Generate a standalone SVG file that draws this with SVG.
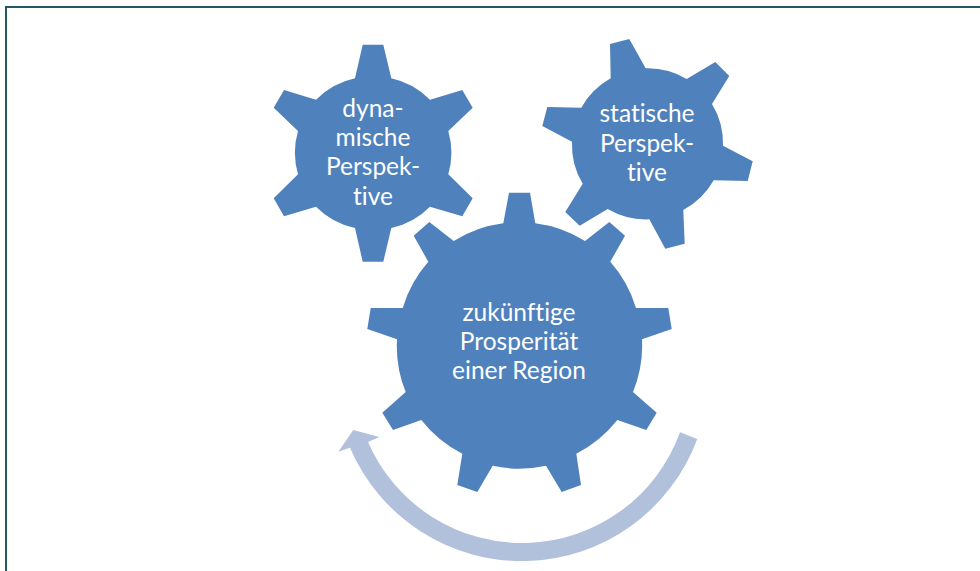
<svg xmlns="http://www.w3.org/2000/svg" width="980" height="571" viewBox="0 0 980 571">
<style>
.gear{fill:#4f81bd}
.arrow{fill:#b2c1db}
.frame{fill:none;stroke:#215868;stroke-width:2}
text{font-family:"Lato","Open Sans","Liberation Sans",sans-serif;font-size:24.5px;font-variant-ligatures:none;fill:#fff;text-anchor:middle}
</style>
<rect width="980" height="571" fill="#fff"/>
<path class="frame" d="M6 571V7H980"/>
<g id="connectors">
<path class="arrow" d="M697.3 439A187 187 0 0 1 350 447.7L338.3 451.7L353.3 430L379.3 437L368 442A168 168 0 0 0 680 432.3Z"/>
</g>
<g id="gear-dynamisch">
<path class="gear" d="M362.7 44.7H383.3L391.3 78.3A78 78 0 0 1 430 99.7L462.3 90L472.7 107.7L448.3 131A78 78 0 0 1 448.3 174.3L472.7 198.3L462.3 216.3L430 206.7A78 78 0 0 1 391.3 228L383.3 261.7H362.7L355 228A78 78 0 0 1 316 206.7L284 216.3L273.7 198.3L298 174.3A78 78 0 0 1 298 131L273.7 107.7L284 90L316 99.7A78 78 0 0 1 355 78.3Z"/>
<text x="373" y="117">dyna-</text>
<text x="373" y="146">mische</text>
<text x="373" y="175">Perspek-</text>
<text x="373" y="204.5">tive</text>
</g>
<g id="gear-statisch">
<path class="gear" d="M610 44L629.3 39L645.7 68.3A76 76 0 0 1 686.7 79L715.3 62L729.3 76L712 104A76 76 0 0 1 723 145.7L752.7 161.3L747.7 181L713.7 180.3A76 76 0 0 1 683.3 210L684.7 243.7L665.3 248.7L649.3 219.3A76 76 0 0 1 607.7 209L579.7 225.7L565.3 212L582.7 183.7A76 76 0 0 1 572 141.7L542.3 126L547.3 107L581.3 107.7A76 76 0 0 1 610.7 78.3Z"/>
<text x="647" y="122">statische</text>
<text x="647" y="151.5">Perspek-</text>
<text x="647" y="181">tive</text>
</g>
<g id="gear-prosperitaet">
<path class="gear" d="M509 192.7H530L535.3 223.3A122.5 122.5 0 0 1 585 241L609.3 222L625 235.7L610.3 261.7A122.5 122.5 0 0 1 636 308H668.3L671.7 329L642 339.3A122.5 122.5 0 0 1 633 392L656.7 412.7L646.3 430L617.3 420A122.5 122.5 0 0 1 576.3 453.7L581 485L561.7 492L546 465.7A122.5 122.5 0 0 1 492.7 465.7L477.3 492L457.3 485L462.3 453.7A122.5 122.5 0 0 1 421.3 420L393 430L382.3 412.7L405.7 392A122.5 122.5 0 0 1 397 339.3L367.3 329L370.7 308H402.7A122.5 122.5 0 0 1 428.3 261.7L413.7 235.7L429.3 222L453.7 241A122.5 122.5 0 0 1 503.3 223.3Z"/>
<text x="519" y="320.5">zukünftige</text>
<text x="519" y="349.5">Prosperität</text>
<text x="519" y="378.5">einer Region</text>
</g>
</svg>
